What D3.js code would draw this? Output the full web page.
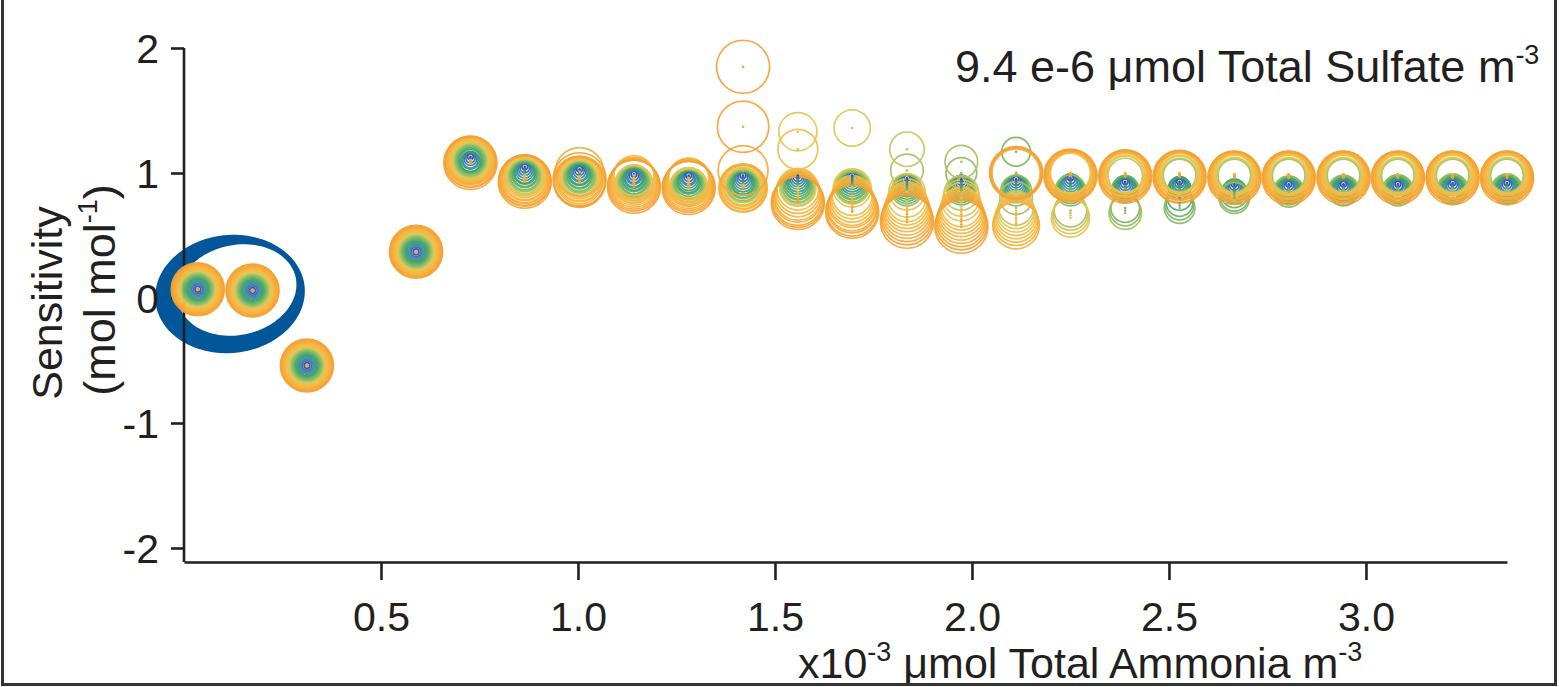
<!DOCTYPE html>
<html>
<head>
<meta charset="utf-8">
<script src="https://cdn.jsdelivr.net/npm/d3@7"></script>
<style>
  html, body { margin: 0; padding: 0; background: #fff; }
  svg { display: block; }
  text { font-family: "Liberation Sans", Arial, Helvetica, sans-serif; fill: #231f20; }
</style>
</head>
<body>
<svg id="chart" width="1559" height="687"></svg>
<script>
// Total ammonia at each simulated point (x10^-3 umol m^-3)
const ammonia = [0.035, 0.174, 0.312, 0.589, 0.727, 0.865, 1.004, 1.142, 1.281, 1.419, 1.558, 1.696,
                 1.835, 1.973, 2.112, 2.250, 2.389, 2.527, 2.666, 2.804, 2.943, 3.081, 3.220, 3.358];

// Marker-size / colour levels, smallest to largest
const sizeLevels = [1, 2, 3, 4, 5, 6, 7, 8, 9, 10, 11, 12, 13, 14, 15, 16, 17, 18, 19, 20, 21, 22, 23, 24];

// Sensitivity (mol mol^-1): one row per ammonia point, one value per size level
const sensitivity = [
  [0.07,0.07,0.07,0.07,0.07,0.07,0.07,0.07,0.07,0.07,0.07,0.07,0.07,0.07,0.07,0.07,0.07,0.07,0.07,0.07,0.07,0.07,0.07,0.07],
  [0.06,0.06,0.06,0.06,0.06,0.06,0.06,0.06,0.06,0.06,0.06,0.06,0.06,0.06,0.06,0.06,0.06,0.06,0.06,0.06,0.06,0.06,0.06,0.06],
  [-0.54,-0.54,-0.54,-0.54,-0.54,-0.54,-0.54,-0.54,-0.54,-0.54,-0.54,-0.54,-0.54,-0.54,-0.54,-0.54,-0.54,-0.54,-0.54,-0.54,-0.54,-0.54,-0.54,-0.54],
  [0.37,0.37,0.37,0.37,0.37,0.37,0.37,0.37,0.37,0.37,0.37,0.37,0.37,0.37,0.37,0.37,0.37,0.37,0.37,0.37,0.37,0.37,0.37,0.37],
  [1.13,1.12,1.11,1.10,1.10,1.09,1.10,1.10,1.10,1.10,1.10,1.10,1.10,1.10,1.10,1.10,1.10,1.10,1.10,1.10,1.10,1.09,1.09,1.08],
  [1.05,1.04,1.03,1.02,1.01,1.00,1.00,0.99,0.99,0.98,0.98,0.98,0.97,0.97,0.97,0.98,0.97,0.96,0.96,0.95,0.95,0.94,0.94,0.93],
  [1.03,1.02,1.01,1.00,1.00,0.99,0.99,0.98,0.98,0.97,0.97,0.97,0.96,0.96,0.96,0.97,0.96,0.95,0.95,0.94,1.01,0.93,0.93,0.95],
  [0.99,0.98,0.97,0.97,0.96,0.96,0.95,0.95,0.94,0.94,0.93,0.93,0.92,0.92,0.91,0.98,0.96,0.95,0.94,0.93,0.92,0.91,0.90,0.89],
  [0.98,0.97,0.96,0.96,0.95,0.94,0.93,0.93,0.92,0.91,0.91,0.90,0.90,0.89,0.89,0.96,0.95,0.94,0.93,0.92,0.91,0.90,0.89,0.88],
  [0.98,0.97,0.96,0.95,0.94,0.93,0.92,0.92,0.91,0.91,0.90,0.90,0.90,0.89,0.89,0.90,0.90,0.89,0.89,0.88,0.88,1.02,1.37,1.85],
  [0.98,0.97,0.96,0.95,0.94,0.93,0.92,0.91,0.90,0.90,0.89,0.89,0.88,0.88,1.33,1.19,0.87,0.85,0.83,0.81,0.80,0.78,0.77,0.76],
  [0.98,0.97,0.96,0.95,0.94,0.93,0.92,0.91,0.90,0.90,0.89,0.89,0.89,1.36,0.88,0.82,0.80,0.78,0.76,0.75,0.73,0.72,0.70,0.69],
  [0.96,0.95,0.94,0.93,0.92,0.91,0.90,0.89,0.88,0.87,0.86,1.02,1.19,0.85,0.80,0.77,0.75,0.73,0.71,0.69,0.67,0.65,0.63,0.61],
  [0.95,0.94,0.93,0.92,0.91,0.90,0.89,0.88,0.87,0.86,1.00,1.09,0.84,0.80,0.77,0.73,0.71,0.69,0.67,0.65,0.63,0.61,0.59,0.57],
  [0.95,0.94,0.93,0.92,0.91,0.90,0.89,0.88,0.87,1.17,0.86,0.80,0.72,0.70,0.68,0.66,0.64,0.62,0.60,0.58,1.00,1.00,1.00,1.00],
  [0.96,0.95,0.94,0.93,0.92,0.91,0.90,0.89,0.88,0.87,0.86,0.70,0.68,0.66,0.64,1.00,1.00,1.00,0.99,0.99,0.99,0.98,0.98,0.98],
  [0.93,0.92,0.91,0.90,0.89,0.89,0.88,0.88,0.87,0.72,0.70,0.68,0.98,0.99,0.99,1.00,1.00,0.99,0.99,0.99,0.98,0.98,0.98,0.97],
  [0.93,0.92,0.91,0.90,0.89,0.89,0.88,0.80,0.76,0.74,0.72,0.98,0.98,0.99,0.99,1.00,1.00,0.99,0.99,0.98,0.98,0.98,0.97,0.97],
  [0.91,0.90,0.89,0.88,0.87,0.87,0.86,0.85,0.83,0.81,0.80,0.98,0.98,0.98,0.99,0.99,0.99,0.99,0.98,0.98,0.98,0.97,0.97,0.96],
  [0.91,0.90,0.89,0.89,0.88,0.88,0.87,0.87,0.86,0.86,0.85,0.98,0.98,0.98,0.99,0.99,0.99,0.99,0.98,0.98,0.98,0.97,0.97,0.96],
  [0.91,0.90,0.89,0.89,0.88,0.88,0.87,0.87,0.87,0.86,0.86,0.98,0.98,0.98,0.99,0.99,0.99,0.99,0.98,0.98,0.98,0.97,0.97,0.96],
  [0.91,0.90,0.90,0.89,0.89,0.88,0.88,0.87,0.87,0.87,0.86,0.98,0.98,0.98,0.99,0.99,0.99,0.99,0.98,0.98,0.98,0.97,0.97,0.96],
  [0.92,0.91,0.90,0.89,0.89,0.88,0.88,0.88,0.87,0.87,0.87,0.98,0.98,0.98,0.99,0.99,0.99,0.99,0.98,0.98,0.98,0.97,0.97,0.96],
  [0.92,0.91,0.90,0.90,0.89,0.89,0.88,0.88,0.88,0.87,0.87,0.98,0.98,0.98,0.99,0.99,0.99,0.99,0.98,0.98,0.98,0.97,0.97,0.96]
];

const yTicks = [-2, -1, 0, 1, 2];
const yTickLabels = ["-2", "-1", "0", "1", "2"];
const xTicks = [0.5, 1.0, 1.5, 2.0, 2.5, 3.0];
const xTickLabels = ["0.5", "1.0", "1.5", "2.0", "2.5", "3.0"];

const svg = d3.select("#chart");
const ink = "#231f20";

// Scales
const x = d3.scaleLinear().domain([0, 3.358]).range([184, 1507]);
const y = d3.scaleLinear().domain([-2.112, 2]).range([562, 48]);
const radius = d3.scalePow().exponent(0.7).domain([0, 24]).range([0, 26.5]);
const colour = d3.scaleLinear()
  .domain([1, 3, 4, 7, 11, 14, 17, 24])
  .range(["#2c4a9e", "#3a72b8", "#2f8e98", "#3ea266", "#8cbc64", "#dcc858", "#f6ba42", "#f59f33"])
  .interpolate(d3.interpolateRgb);

// Highlight around the lowest-ammonia points
const crescent = d3.path();
function ellipse(p, cx, cy, rx, ry, rotDeg, n) {
  const a = rotDeg * Math.PI / 180;
  for (let i = 0; i <= n; i++) {
    const t = (i / n) * 2 * Math.PI;
    const ex = rx * Math.cos(t), ey = ry * Math.sin(t);
    const px = cx + ex * Math.cos(a) - ey * Math.sin(a);
    const py = cy + ex * Math.sin(a) + ey * Math.cos(a);
    if (i === 0) p.moveTo(px, py); else p.lineTo(px, py);
  }
  p.closePath();
}
ellipse(crescent, 230, 294, 75, 59, -6, 120);
ellipse(crescent, 237, 290, 60, 45, -12, 120);
svg.append("path")
  .attr("d", crescent.toString())
  .attr("fill", "#02569a")
  .attr("fill-rule", "evenodd");

// Axes
const yAxis = d3.axisLeft(y).tickValues(yTicks).tickFormat((d, i) => yTickLabels[i])
  .tickSize(13).tickSizeOuter(0).tickPadding(12);
const gy = svg.append("g").attr("transform", "translate(184,0)").call(yAxis);
gy.select(".domain").attr("d", `M0,${y(2)}V${y.range()[0]}`);

const xAxis = d3.axisBottom(x).tickValues(xTicks).tickFormat((d, i) => xTickLabels[i])
  .tickSize(18).tickSizeOuter(0).tickPadding(22);
const gx = svg.append("g").attr("transform", "translate(0,562)").call(xAxis);

[gx, gy].forEach(g => {
  g.selectAll(".domain").attr("stroke", ink).attr("stroke-width", 2.6);
  g.selectAll(".tick line").attr("stroke", ink).attr("stroke-width", 2.6);
  g.selectAll(".tick text").attr("fill", ink).style("font-size", "41px")
    .style("font-family", '"Liberation Sans", Arial, sans-serif');
});
gy.selectAll(".tick text").attr("dy", "0.36em");
gx.selectAll(".tick text").attr("dy", "0.7em");

// Rings: every size level at every ammonia point, small markers first
const rings = [];
ammonia.forEach((a, i) => {
  sizeLevels.forEach((lv, j) => {
    rings.push({ a, s: sensitivity[i][j], lv });
  });
});
rings.sort((p, q) => p.lv - q.lv);

const markers = svg.append("g");
markers.selectAll("circle.ring")
  .data(rings)
  .join("circle")
  .attr("class", "ring")
  .attr("cx", d => x(d.a))
  .attr("cy", d => y(d.s))
  .attr("r", d => radius(d.lv))
  .attr("fill", "none")
  .attr("stroke", d => colour(d.lv))
  .attr("stroke-width", 1.7)
  .attr("stroke-opacity", 0.92);

markers.selectAll("circle.dot")
  .data(rings)
  .join("circle")
  .attr("class", "dot")
  .attr("cx", d => x(d.a))
  .attr("cy", d => y(d.s))
  .attr("r", 1.3)
  .attr("fill", d => colour(d.lv));

// Annotation and axis titles
const ann = svg.append("text").attr("x", 955).attr("y", 82).style("font-size", "45px");
ann.append("tspan").text("9.4 e-6 \u03bcmol Total Sulfate m");
ann.append("tspan").attr("dy", -18).style("font-size", "27px").text("-3");

const xt = svg.append("text").attr("x", 798).attr("y", 678).style("font-size", "43px");
xt.append("tspan").text("x10");
xt.append("tspan").attr("dy", -17).style("font-size", "27px").text("-3");
xt.append("tspan").attr("dy", 17).text(" \u03bcmol Total Ammonia m");
xt.append("tspan").attr("dy", -17).style("font-size", "27px").text("-3");

svg.append("text")
  .attr("transform", "translate(62,303) rotate(-90)")
  .attr("text-anchor", "middle")
  .style("font-size", "43px")
  .text("Sensitivity");

const yt2 = svg.append("text")
  .attr("transform", "translate(115,290) rotate(-90)")
  .attr("text-anchor", "middle")
  .style("font-size", "45px");
yt2.append("tspan").text("(mol mol");
yt2.append("tspan").attr("dy", -18).style("font-size", "27px").text("-1");
yt2.append("tspan").attr("dy", 18).text(")");

// Frame
svg.append("path")
  .attr("d", "M2.5,0V684.5H1555.5V0")
  .attr("fill", "none")
  .attr("stroke", "#333")
  .attr("stroke-width", 3);
</script>
</body>
</html>
